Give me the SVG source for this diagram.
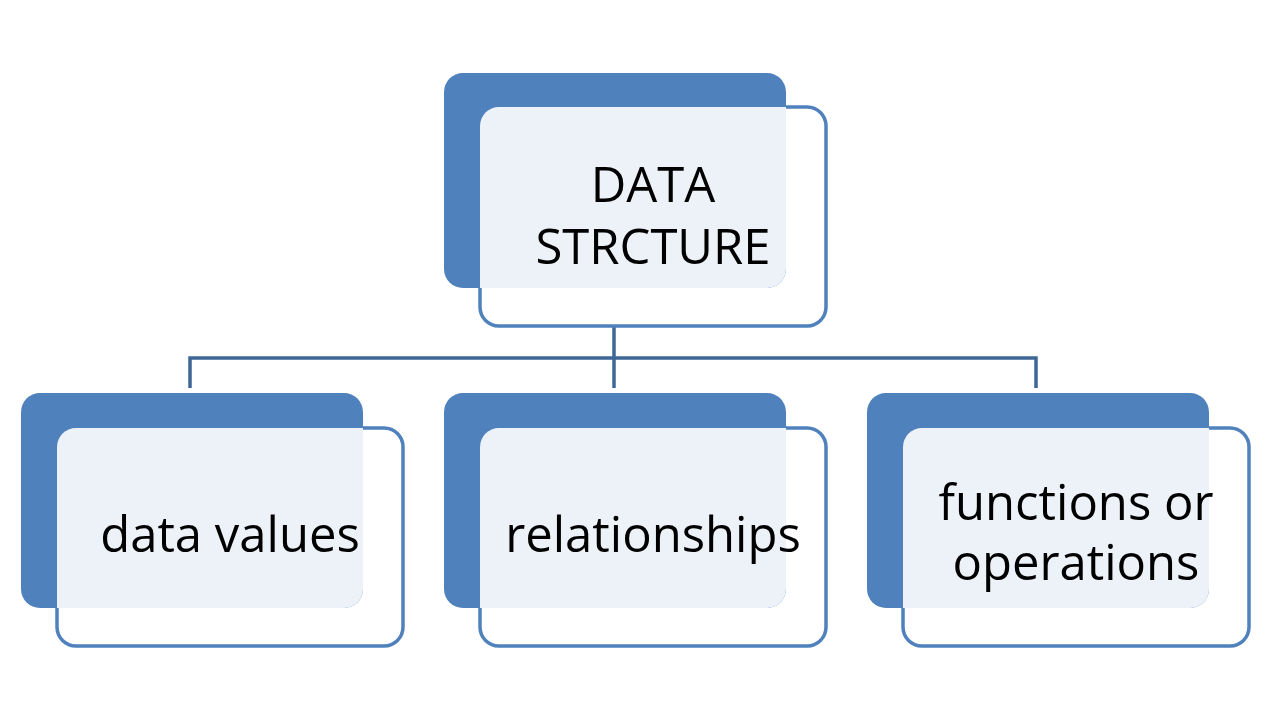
<svg xmlns="http://www.w3.org/2000/svg" width="1271" height="725" viewBox="0 0 1271 725">
<style>
.back{fill:#4F81BD}
.front{fill:#FFFFFF;stroke:#4F81BD;stroke-width:3.5}
.ov{fill:#EDF2F9}
.lbl{font-family:"Open Sans","Liberation Sans",sans-serif;font-size:49px;fill:#000;text-anchor:middle}
.con{stroke:#3F6796;stroke-width:3.5;fill:none}
</style>
<rect width="1271" height="725" fill="#FFFFFF"/>
<g id="connectors">
<line x1="614" y1="293" x2="614" y2="327" stroke="#E6ECF6" stroke-width="3"/>
<line class="con" x1="614" y1="327" x2="614" y2="358"/>
<polyline class="con" points="190,388 190,358 1036,358 1036,388"/>
<line class="con" x1="614" y1="358" x2="614" y2="388"/>
</g>
<g id="node-top">
<rect class="front" x="480" y="107" width="346" height="219" rx="19"/>
<rect class="back" x="444" y="73" width="342" height="215" rx="19"/>
<path class="ov" d="M499,107 H786 V269 A19,19 0 0 1 767,288 H480 V126 A19,19 0 0 1 499,107 Z"/>
<text class="lbl" x="653" y="202">DATA</text>
<text class="lbl" x="653" y="264">STRCTURE</text>
</g>
<g id="node-left">
<rect class="front" x="57" y="428" width="346" height="218" rx="19"/>
<rect class="back" x="21" y="393" width="342" height="215" rx="19"/>
<path class="ov" d="M76,428 H363 V589 A19,19 0 0 1 344,608 H57 V447 A19,19 0 0 1 76,428 Z"/>
<text class="lbl" x="230" y="552">data values</text>
</g>
<g id="node-middle">
<rect class="front" x="480" y="428" width="346" height="218" rx="19"/>
<rect class="back" x="444" y="393" width="342" height="215" rx="19"/>
<path class="ov" d="M499,428 H786 V589 A19,19 0 0 1 767,608 H480 V447 A19,19 0 0 1 499,428 Z"/>
<text class="lbl" x="653" y="552">relationships</text>
</g>
<g id="node-right">
<rect class="front" x="903" y="428" width="346" height="218" rx="19"/>
<rect class="back" x="867" y="393" width="342" height="215" rx="19"/>
<path class="ov" d="M922,428 H1209 V589 A19,19 0 0 1 1190,608 H903 V447 A19,19 0 0 1 922,428 Z"/>
<text class="lbl" x="1076" y="520">functions or</text>
<text class="lbl" x="1076" y="580">operations</text>
</g>
</svg>
